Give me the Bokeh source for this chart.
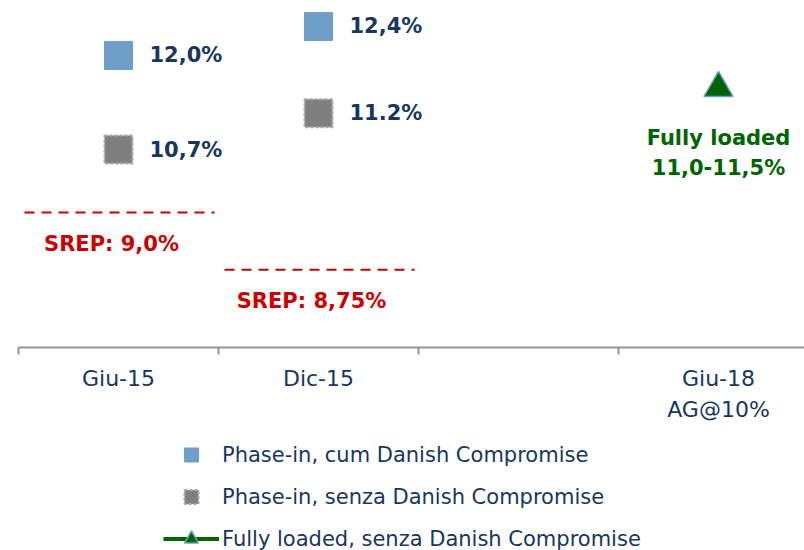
from bokeh.plotting import figure
from bokeh.models import (ColumnDataSource, FixedTicker, Legend, LegendItem,
                          Range1d, LinearAxis)
from bokeh.layouts import column
from bokeh.embed import file_html
from bokeh.resources import INLINE
from bokeh.core.properties import value

# ---------------- data ----------------
categories = ["Giu-15", "Dic-15", "", "Giu-18"]
tick_labels = ["Giu-15", "Dic-15", "", "Giu-18\nAG@10%"]

phase_cat = [0, 1]
phase_in_cum = [12.0, 12.4]
phase_in_cum_labels = ["12,0%", "12,4%"]
phase_in_senza = [10.7, 11.2]
phase_in_senza_labels = ["10,7%", "11.2%"]

fully_cat = [3]
fully_loaded = [11.55]
fully_labels = ["Fully loaded\n11,0-11,5%"]

srep_cat = [0, 1]
srep_level = [9.83, 9.04]          # vertical placement of the SREP lines as drawn
srep_labels = ["SREP: 9,0%", "SREP: 8,75%"]

legend_labels = ["Phase-in, cum Danish Compromise",
                 "Phase-in, senza Danish Compromise",
                 "Fully loaded, senza Danish Compromise"]

# ---------------- styles ----------------
NAVY = "#17375E"
BLUE = "#6F9FC7"
GRAY = "#7F7F7F"
GRAY_EDGE = "#A8A8A8"
GREEN = "#006400"
RED = "#CC0000"
AXIS = "#8E939C"
FONT = "DejaVu Sans"

n = len(categories)
xc = lambda idx: [i + 0.5 for i in idx]

p = figure(width=804, height=437, output_backend="svg", toolbar_location=None,
           x_axis_type=None, y_axis_type=None,
           x_range=Range1d(-0.09, 3.93), y_range=Range1d(7.966, 12.759),
           min_border_left=0, min_border_right=0, min_border_top=0,
           min_border_bottom=90)
p.outline_line_color = None
p.background_fill_color = "white"
p.border_fill_color = "white"

# x axis
ax = LinearAxis(ticker=FixedTicker(ticks=[i + 0.5 for i in range(n)],
                                   minor_ticks=list(range(n))))
ax.major_label_overrides = {i + 0.5: tick_labels[i] for i in range(n)}
ax.bounds = (0, 3.93)
ax.axis_line_color = AXIS
ax.axis_line_width = 2
ax.major_tick_out = 0
ax.major_tick_in = 0
ax.minor_tick_out = 7
ax.minor_tick_in = 0
ax.minor_tick_line_color = AXIS
ax.minor_tick_line_width = 2
ax.major_label_standoff = 11
ax.major_label_text_font = FONT
ax.major_label_text_font_size = "22px"
ax.major_label_text_color = NAVY
ax.major_label_text_line_height = 1.25
p.add_layout(ax, "below")

# SREP dashed lines + labels
src_srep = ColumnDataSource(dict(x0=[c + 0.03 for c in srep_cat],
                                 x1=[c + 0.98 for c in srep_cat],
                                 xm=xc(srep_cat), y=srep_level, t=srep_labels))
p.segment(x0="x0", x1="x1", y0="y", y1="y", source=src_srep,
          line_color=RED, line_width=2, line_dash="10 7")
p.text(x="xm", y="y", text="t", source=src_srep, x_offset=-7, y_offset=31,
       text_font=value(FONT), text_font_size="21px", text_font_style="bold",
       text_color=RED, text_align="center", text_baseline="middle")

# phase-in cum
src_cum = ColumnDataSource(dict(x=xc(phase_cat), y=phase_in_cum, t=phase_in_cum_labels))
cum_style = dict(marker="square", fill_color=BLUE, line_color=BLUE, line_width=1)
p.scatter(x="x", y="y", source=src_cum, size=28, **cum_style)
p.text(x="x", y="y", text="t", source=src_cum, x_offset=31,
       text_font=value(FONT), text_font_size="21px", text_font_style="bold",
       text_color=NAVY, text_align="left", text_baseline="middle")

# phase-in senza
src_senza = ColumnDataSource(dict(x=xc(phase_cat), y=phase_in_senza, t=phase_in_senza_labels))
senza_style = dict(marker="square", fill_color=GRAY, line_color=GRAY_EDGE,
                   line_width=2, line_dash="3 2")
p.scatter(x="x", y="y", source=src_senza, size=28, **senza_style)
p.text(x="x", y="y", text="t", source=src_senza, x_offset=31,
       text_font=value(FONT), text_font_size="21px", text_font_style="bold",
       text_color=NAVY, text_align="left", text_baseline="middle")

# fully loaded
src_full = ColumnDataSource(dict(x=xc(fully_cat), y=fully_loaded, t=fully_labels))
full_style = dict(marker="triangle", fill_color=GREEN, line_color=BLUE, line_width=1.5)
p.line(x="x", y="y", source=src_full, line_color=GREEN, line_width=4)
p.scatter(x="x", y="y", source=src_full, size=29, **full_style)
p.text(x="x", y="y", text="t", source=src_full, y_offset=38,
       text_font=value(FONT), text_font_size="21px", text_font_style="bold",
       text_color=GREEN, text_align="center", text_baseline="top",
       text_line_height=1.24)

# ---------------- legend strip (same series, legend only) ----------------
p2 = figure(width=804, height=113, output_backend="svg", toolbar_location=None,
            x_axis_type=None, y_axis_type=None,
            x_range=Range1d(0, 1), y_range=Range1d(0, 1),
            min_border=0)
p2.outline_line_color = None
p2.background_fill_color = "white"
p2.border_fill_color = "white"

l_cum = p2.scatter(x="x", y="y", source=src_cum, **cum_style)
l_senza = p2.scatter(x="x", y="y", source=src_senza, **senza_style)
l_full_line = p2.line(x="x", y="y", source=src_full, line_color=GREEN, line_width=4)
l_full = p2.scatter(x="x", y="y", source=src_full, **full_style)

legend = Legend(items=[LegendItem(label=legend_labels[0], renderers=[l_cum]),
                       LegendItem(label=legend_labels[1], renderers=[l_senza]),
                       LegendItem(label=legend_labels[2], renderers=[l_full_line, l_full])],
                location=(163, -6), orientation="vertical",
                glyph_width=56, glyph_height=35, label_height=35,
                spacing=7, padding=0, margin=0, label_standoff=3,
                label_text_font=FONT, label_text_font_size="21px",
                label_text_color=NAVY,
                border_line_alpha=0, background_fill_alpha=0)
p2.add_layout(legend)

layout = column(p, p2, spacing=0)
open("out.html", "w").write(file_html(layout, INLINE))
